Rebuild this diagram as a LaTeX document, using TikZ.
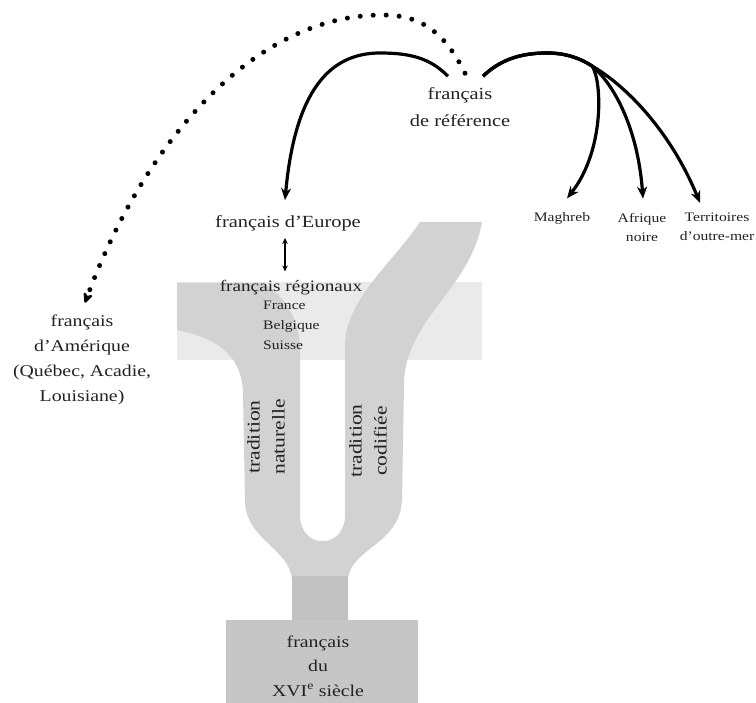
\documentclass[tikz,border=0pt]{standalone}
\usepackage{fontspec}
\setmainfont{Liberation Serif}[FakeStretch=1.2]
\usetikzlibrary{arrows.meta}
\definecolor{armgray}{HTML}{D2D2D2}
\definecolor{panelgray}{HTML}{EAEAEA}
\definecolor{trunkgray}{HTML}{C2C2C2}
\definecolor{basegray}{HTML}{C6C6C6}
\definecolor{ink}{HTML}{222222}
\tikzset{
  lbl/.style={text=ink, inner sep=1pt, align=center},
  big/.style={font=\fontsize{17}{27}\selectfont},
  mid/.style={font=\fontsize{16}{24}\selectfont},
  amerf/.style={font=\fontsize{16.5}{25}\selectfont},
  vert/.style={font=\fontsize{18}{25}\selectfont, rotate=90},
  small/.style={font=\fontsize{13}{19}\selectfont},
  smallc/.style={font=\fontsize{13}{20}\selectfont},
  arcarrow/.style={draw=black, line width=3.2pt, -{Stealth[length=12pt,width=10pt]}},
  dotarrow/.style={draw=black, line width=5pt, line cap=round, dash pattern=on 0pt off 13pt, -{Stealth[length=13pt,width=12pt,round]}},
  dblarrow/.style={draw=black, line width=2pt, {Stealth[length=6pt,width=5.5pt]}-{Stealth[length=6pt,width=5.5pt]}}
}
\begin{document}
\begin{tikzpicture}[x=1pt,y=-1pt]
\useasboundingbox (0,0) rectangle (756,703);
% grey Y-shaped background
\fill[panelgray] (177,282) rectangle (482,360);
\fill[armgray] (177,283) -- (262,283)
  .. controls (285,295) and (300,320) .. (300,350)
  -- (300,515)
  .. controls (300,550) and (345,550) .. (345,515)
  -- (345,345)
  .. controls (345,300) and (395,260) .. (420,222)
  -- (482,222)
  .. controls (470,290) and (404,320) .. (404,385)
  -- (402,500)
  .. controls (400,545) and (350,548) .. (348,580)
  -- (348,625) -- (292,625) -- (292,580)
  .. controls (290,548) and (245,540) .. (245,500)
  -- (243,395)
  .. controls (243,345) and (200,335) .. (177,330)
  -- cycle;
\fill[trunkgray] (292,576) rectangle (348,622);
\fill[basegray] (226,620) rectangle (418,703);

% labels
\node[lbl,big] (ref) at (460,107) {français\\de référence};
\node[lbl,big] (eur) at (288,223) {français d'Europe};
\node[lbl,mid] (reg) at (291,288) {français régionaux};
\node[lbl,smallc,align=left,anchor=north west] (pays) at (262,300) {France\\Belgique\\Suisse};
\node[lbl,amerf] (amer) at (82,360) {français\\d'Amérique\\(Québec, Acadie,\\Louisiane)};
\node[lbl,small] (magh) at (562,218.5) {Maghreb};
\node[lbl,small] (afr) at (642,227) {Afrique\\noire};
\node[lbl,small] (terr) at (717,227) {Territoires\\d'outre-mer};
\node[lbl,vert] (nat) at (266,437) {tradition\\naturelle};
\node[lbl,vert] (cod) at (368,441) {tradition\\codifiée};
\node[lbl,font=\fontsize{16.5}{24.5}\selectfont] (xvi) at (318,666) {français\\du\\XVI\textsuperscript{e} siècle};

% connectors
\draw[arcarrow] ([xshift=-12pt,yshift=10pt]ref.north)
  .. controls (430,58) and (410,53) .. (380,53)
  .. controls (330,53) and (295,90) .. ([xshift=-3pt,yshift=14pt]eur.north);
\draw[arcarrow] ([xshift=23pt,yshift=10pt]ref.north)
  .. controls (500,60) and (520,53) .. (547,53)
  .. controls (565,53) and (580,58) .. (592,66)
  .. controls (602,80) and (605,150) .. ([xshift=5pt,yshift=13pt]magh.north);
\draw[arcarrow] ([xshift=23pt,yshift=10pt]ref.north)
  .. controls (500,60) and (520,53) .. (547,53)
  .. controls (565,53) and (580,58) .. (592,66)
  .. controls (615,85) and (638,130) .. ([xshift=1pt,yshift=13pt]afr.north);
\draw[arcarrow] ([xshift=23pt,yshift=10pt]ref.north)
  .. controls (500,60) and (520,53) .. (547,53)
  .. controls (565,53) and (580,58) .. (592,66)
  .. controls (625,85) and (670,130) .. ([xshift=-17pt,yshift=9pt]terr.north);
\draw[dotarrow] ([xshift=5pt,yshift=13pt]ref.north)
  .. controls (440,22) and (410,15) .. (382,15)
  .. controls (255,15) and (145,140) .. ([xshift=3pt,yshift=11pt]amer.north);
\draw[dblarrow] ([xshift=-3pt,yshift=-6pt]eur.south) -- ([xshift=-6pt,yshift=8pt]reg.north);
\end{tikzpicture}
\end{document}
